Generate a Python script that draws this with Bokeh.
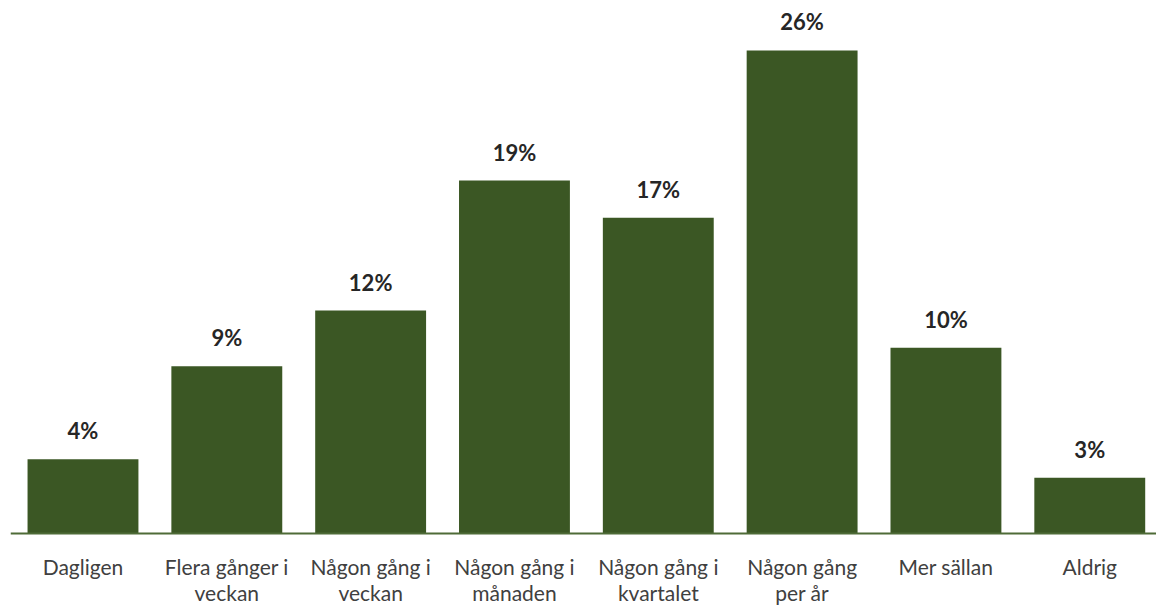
from bokeh.plotting import figure
from bokeh.models import ColumnDataSource, Range1d, Span
from bokeh.core.properties import value
from bokeh.embed import file_html
from bokeh.resources import INLINE

categories = ["Dagligen", "Flera gånger i veckan", "Någon gång i veckan", "Någon gång i månaden",
              "Någon gång i kvartalet", "Någon gång per år", "Mer sällan", "Aldrig"]
tick_labels = ["Dagligen", "Flera gånger i\nveckan", "Någon gång i\nveckan", "Någon gång i\nmånaden",
               "Någon gång i\nkvartalet", "Någon gång\nper år", "Mer sällan", "Aldrig"]
values = [4, 9, 12, 19, 17, 26, 10, 3]
labels = [f"{v}%" for v in values]

FONT = "Lato"
BAR = "#3B5724"

xpos = list(range(len(categories)))
src = ColumnDataSource(dict(x=xpos, cat=categories, tick=tick_labels,
                            zero=[0] * len(categories), val=values, lab=labels))

p = figure(x_range=Range1d(-0.504, 7.464), y_range=Range1d(-3.875, 28.69), width=1156, height=605,
           output_backend="svg", toolbar_location=None,
           min_border_left=10, min_border_right=0, min_border_top=0, min_border_bottom=0)
p.outline_line_color = None
p.grid.grid_line_color = None
p.axis.visible = False

p.vbar(x="x", top="val", width=0.771, source=src, color=BAR, line_color=None)
p.add_layout(Span(location=0, dimension="width", line_color="#4E6B37", line_width=2))
p.text(x="x", y="val", text="lab", source=src, text_align="center", text_baseline="bottom",
       y_offset=-15, text_font=value(FONT), text_font_style="bold", text_font_size="22px",
       text_color="#262626")
p.text(x="x", y="zero", text="tick", source=src, text_align="center", text_baseline="top",
       y_offset=20, text_font=value(FONT), text_font_size="21px", text_line_height=1.05,
       text_color="#404040")

open("out.html", "w").write(file_html(p, INLINE))
